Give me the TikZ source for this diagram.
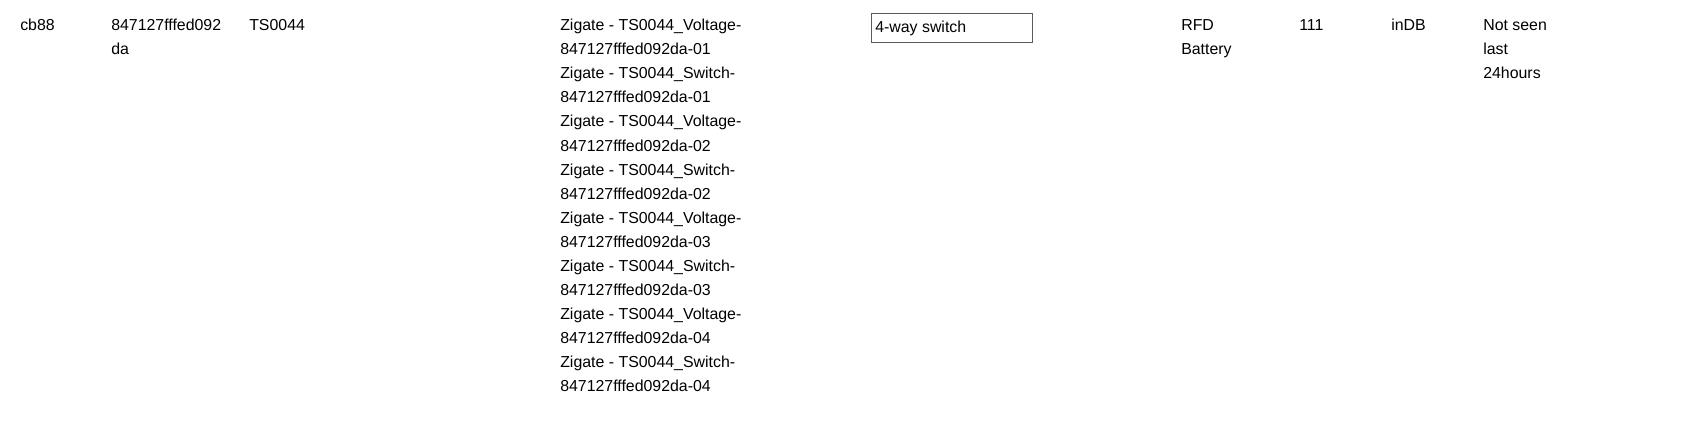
\documentclass[tikz,border=0pt]{standalone}
\usepackage{fontspec}
\setmainfont{Liberation Sans}
\begin{document}
\begin{tikzpicture}[x=0.025cm,y=-0.025cm,
  cell/.style={anchor=north west,inner sep=0pt,align=left,font=\fontsize{11.3}{17.1}\selectfont}]
  \useasboundingbox (0,0) rectangle (1691,437);
  \node[cell] (id) at (20,19) {cb88};
  \node[cell] (ieee) at (111,19) {847127fffed092\\da};
  \node[cell] (model) at (249,19) {TS0044};
  \node[cell] (widgets) at (560,19) {Zigate - TS0044\_Voltage-\\847127fffed092da-01\\Zigate - TS0044\_Switch-\\847127fffed092da-01\\Zigate - TS0044\_Voltage-\\847127fffed092da-02\\Zigate - TS0044\_Switch-\\847127fffed092da-02\\Zigate - TS0044\_Voltage-\\847127fffed092da-03\\Zigate - TS0044\_Switch-\\847127fffed092da-03\\Zigate - TS0044\_Voltage-\\847127fffed092da-04\\Zigate - TS0044\_Switch-\\847127fffed092da-04};
  \draw[gray!70!black] (871,13) rectangle (1032,42);
  \node[cell] (type) at (875,21) {4-way switch};
  \node[cell] (power) at (1181,19) {RFD\\Battery};
  \node[cell] (lqi) at (1299,19) {111};
  \node[cell] (status) at (1391,19) {inDB};
  \node[cell] (seen) at (1483,19) {Not seen\\last\\24hours};
\end{tikzpicture}
\end{document}
